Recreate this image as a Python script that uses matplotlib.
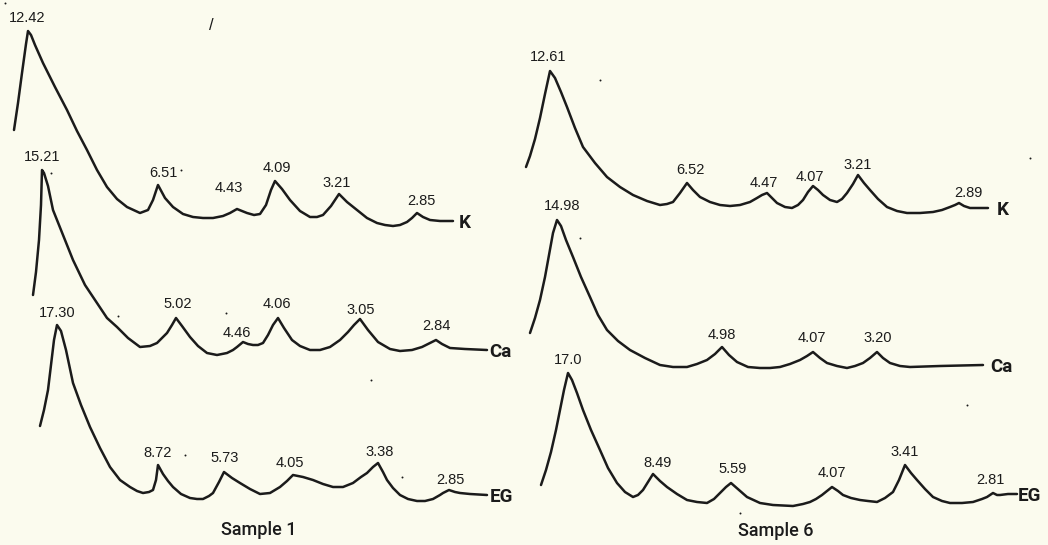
import matplotlib.pyplot as plt

plt.rcParams['font.family'] = ['Liberation Sans', 'DejaVu Sans']

# diffractometer traces, page units (x to the right, y downward)
# ---- Sample 1 ----
s1_k_x = [14, 18, 22, 26, 28, 31, 35, 43, 55, 67, 77, 87, 97, 107, 117, 127, 140, 148, 153, 158, 165, 173,
          183, 193, 203, 213, 223, 230, 237, 242, 247, 254, 260, 266, 271, 275, 282, 290, 300, 310, 317,
          323, 331, 339, 347, 357, 367, 377, 385, 393, 400, 407, 412, 417, 423, 430, 440, 453]
s1_k_y = [130, 103, 73, 44, 31, 35, 45, 63, 87, 110, 131, 150, 170, 187, 199, 207, 213, 210, 200, 185, 198,
          207, 214, 217, 218, 218, 216, 213, 209, 211, 213, 215, 214, 205, 190, 181, 189, 200, 211, 217,
          217, 215, 206, 194, 202, 210, 218, 223, 225, 226, 225, 222, 218, 213, 217, 220, 221, 221]
s1_k_peaks = [28, 158, 237, 275, 339, 417]
s1_k_d = ['12.42', '6.51', '4.43', '4.09', '3.21', '2.85']

s1_ca_x = [33, 36, 39, 41, 42, 44, 48, 53, 63, 73, 85, 97, 107, 117, 128, 140, 150, 157, 163, 167, 172,
           176, 182, 190, 198, 207, 217, 227, 233, 237, 243, 248, 253, 258, 263, 268, 273, 278, 284, 292,
           300, 310, 320, 330, 340, 348, 354, 360, 368, 378, 390, 400, 412, 422, 430, 436, 442, 450, 465,
           487]
s1_ca_y = [295, 272, 240, 205, 170, 173, 186, 210, 235, 260, 285, 303, 318, 327, 338, 347, 346, 343, 337,
           333, 325, 318, 326, 337, 346, 353, 355, 353, 350, 347, 342, 344, 345, 345, 343, 335, 325, 318,
           328, 340, 346, 350, 350, 347, 340, 332, 325, 319, 330, 342, 349, 351, 350, 347, 343, 340, 344,
           348, 349, 350]
s1_ca_peaks = [42, 176, 243, 278, 360, 436]
s1_ca_d = ['15.21', '5.02', '4.46', '4.06', '3.05', '2.84']

s1_eg_x = [40, 44, 48, 51, 54, 57, 61, 66, 73, 81, 90, 100, 110, 120, 130, 137, 143, 149, 153, 156, 158,
           163, 168, 173, 181, 190, 197, 203, 209, 213, 219, 224, 232, 240, 250, 260, 270, 280, 287, 293,
           303, 313, 323, 333, 343, 353, 361, 367, 373, 378, 383, 387, 393, 400, 408, 417, 425, 433, 440,
           443, 449, 455, 460, 470, 487]
s1_eg_y = [426, 410, 390, 365, 340, 325, 331, 350, 383, 405, 427, 448, 467, 480, 487, 491, 493, 492, 490,
           480, 465, 474, 481, 487, 494, 498, 499, 499, 496, 493, 482, 472, 478, 483, 489, 494, 493, 487,
           481, 475, 477, 480, 484, 487, 487, 483, 477, 473, 467, 463, 472, 480, 488, 495, 499, 501, 501,
           499, 495, 493, 490, 492, 493, 494, 495]
s1_eg_peaks = [57, 158, 224, 293, 378, 449]
s1_eg_d = ['17.30', '8.72', '5.73', '4.05', '3.38', '2.85']

# ---- Sample 6 ----
s6_k_x = [526, 530, 535, 540, 545, 550, 555, 561, 567, 575, 583, 595, 607, 620, 633, 647, 660, 667, 673,
          680, 687, 693, 700, 710, 720, 730, 740, 750, 757, 762, 767, 772, 777, 785, 792, 798, 803, 808,
          813, 818, 823, 830, 837, 842, 847, 853, 858, 864, 870, 878, 887, 897, 907, 920, 933, 942, 950,
          955, 959, 964, 970, 988]
s6_k_y = [167, 156, 139, 118, 94, 71, 78, 92, 107, 128, 147, 163, 177, 187, 195, 201, 205, 204, 202, 193,
          183, 190, 197, 202, 205, 206, 205, 202, 198, 195, 193, 198, 203, 207, 208, 205, 200, 192, 186,
          190, 195, 200, 202, 199, 193, 184, 175, 183, 190, 199, 207, 211, 213, 213, 212, 210, 207, 205,
          203, 206, 208, 208]
s6_k_peaks = [550, 687, 767, 813, 858, 959]
s6_k_d = ['12.61', '6.52', '4.47', '4.07', '3.21', '2.89']

s6_ca_x = [530, 535, 540, 545, 549, 553, 557, 561, 566, 573, 581, 590, 598, 607, 618, 630, 645, 660, 673,
           687, 697, 707, 715, 722, 729, 737, 748, 760, 770, 780, 790, 800, 807, 813, 820, 827, 837, 847,
           855, 863, 870, 877, 883, 890, 900, 910, 940, 983]
s6_ca_y = [333, 318, 300, 277, 255, 233, 220, 226, 240, 257, 277, 297, 315, 330, 341, 350, 358, 365, 367,
           367, 364, 360, 354, 347, 355, 362, 367, 368, 368, 367, 364, 360, 356, 352, 358, 363, 366, 368,
           366, 363, 358, 352, 358, 363, 366, 367, 366, 365]
s6_ca_peaks = [557, 722, 813, 877]
s6_ca_d = ['14.98', '4.98', '4.07', '3.20']

s6_eg_x = [541, 546, 551, 556, 560, 564, 568, 572, 577, 583, 591, 600, 608, 617, 625, 633, 638, 643, 648,
           653, 660, 667, 677, 687, 697, 707, 714, 720, 726, 731, 739, 747, 760, 773, 793, 803, 810, 816,
           822, 827, 832, 838, 843, 851, 860, 868, 877, 885, 893, 899, 905, 911, 917, 925, 933, 942, 950,
           962, 973, 982, 987, 993, 997, 1000, 1008, 1017]
s6_eg_y = [485, 470, 452, 430, 410, 390, 373, 380, 393, 410, 430, 450, 468, 483, 492, 497, 495, 490, 482,
           474, 481, 487, 494, 500, 502, 503, 499, 493, 487, 483, 490, 497, 503, 505, 506, 504, 502, 499,
           495, 491, 487, 491, 495, 498, 500, 501, 502, 498, 492, 480, 465, 473, 480, 489, 497, 501, 503,
           503, 502, 499, 497, 493, 495, 495, 494, 494]
s6_eg_peaks = [568, 653, 731, 832, 905, 993]
s6_eg_d = ['17.0', '8.49', '5.59', '4.07', '3.41', '2.81']

trace_names = ['K', 'Ca', 'EG', 'K', 'Ca', 'EG']
sample_titles = ['Sample 1', 'Sample 6']

# where each d-spacing sits relative to its peak tip
s1_k_off = [(-1, -13), (5, -12), (-8, -21), (2, -13), (-2, -11), (4, -12)]
s1_ca_off = [(0, -13), (2, -14), (-6, -9), (-1, -14), (1, -9), (0, -14)]
s1_eg_off = [(0, -12), (0, -12), (1, -14), (-3, -12), (2, -11), (1, -10)]
s6_k_off = [(-2, -14), (3, -13), (-3, -10), (-3, -9), (0, -10), (9, -10)]
s6_ca_off = [(5, -14), (0, -12), (-1, -14), (1, -14)]
s6_eg_off = [(0, -13), (5, -11), (2, -14), (0, -14), (0, -13), (-3, -13)]
name_gap = [6, 2, 3, 9, 7, 1]

traces = [
    (s1_k_x, s1_k_y, s1_k_peaks, s1_k_d, s1_k_off),
    (s1_ca_x, s1_ca_y, s1_ca_peaks, s1_ca_d, s1_ca_off),
    (s1_eg_x, s1_eg_y, s1_eg_peaks, s1_eg_d, s1_eg_off),
    (s6_k_x, s6_k_y, s6_k_peaks, s6_k_d, s6_k_off),
    (s6_ca_x, s6_ca_y, s6_ca_peaks, s6_ca_d, s6_ca_off),
    (s6_eg_x, s6_eg_y, s6_eg_peaks, s6_eg_d, s6_eg_off),
]

paper = '#fbfbee'
ink = '#1b1b1b'
tight_font = ['Roboto', 'DejaVu Sans']

fig = plt.figure(figsize=(10.48, 5.45), dpi=100, facecolor=paper)
ax = fig.add_axes([0, 0, 1, 1])
ax.set_facecolor(paper)
ax.set_xlim(0, 1048)
ax.set_ylim(545, 0)
ax.axis('off')

for k, (xs, ys, peaks, dvals, offs) in enumerate(traces):
    ax.plot(xs, ys, color=ink, lw=1.8, solid_joinstyle='round', solid_capstyle='round')
    for px, d, (dx, dy) in zip(peaks, dvals, offs):
        i = xs.index(px)
        ax.text(xs[i] + dx, ys[i] + dy, d, ha='center', va='center', fontsize=10.5, color=ink)
    ax.text(xs[-1] + name_gap[k], ys[-1] + 2, trace_names[k], ha='left', va='center',
            fontsize=13.5, color=ink, family=tight_font, fontweight='bold')

ax.text(259, 530, sample_titles[0], ha='center', va='center', fontsize=13, color=ink,
        family=tight_font, fontweight='medium')
ax.text(776, 531, sample_titles[1], ha='center', va='center', fontsize=13, color=ink,
        family=tight_font, fontweight='medium')

# stray pen mark and specks on the sheet
ax.text(211, 26, '/', ha='center', va='center', fontsize=12, color=ink)
speck_x = [5, 181, 51, 118, 226, 185, 600, 580, 371, 402, 740, 967, 1030]
speck_y = [3, 170, 173, 316, 313, 455, 80, 238, 380, 477, 513, 405, 158]
ax.scatter(speck_x, speck_y, s=2, color=ink, linewidths=0)

fig.savefig('out.png', dpi=100, facecolor=paper)
